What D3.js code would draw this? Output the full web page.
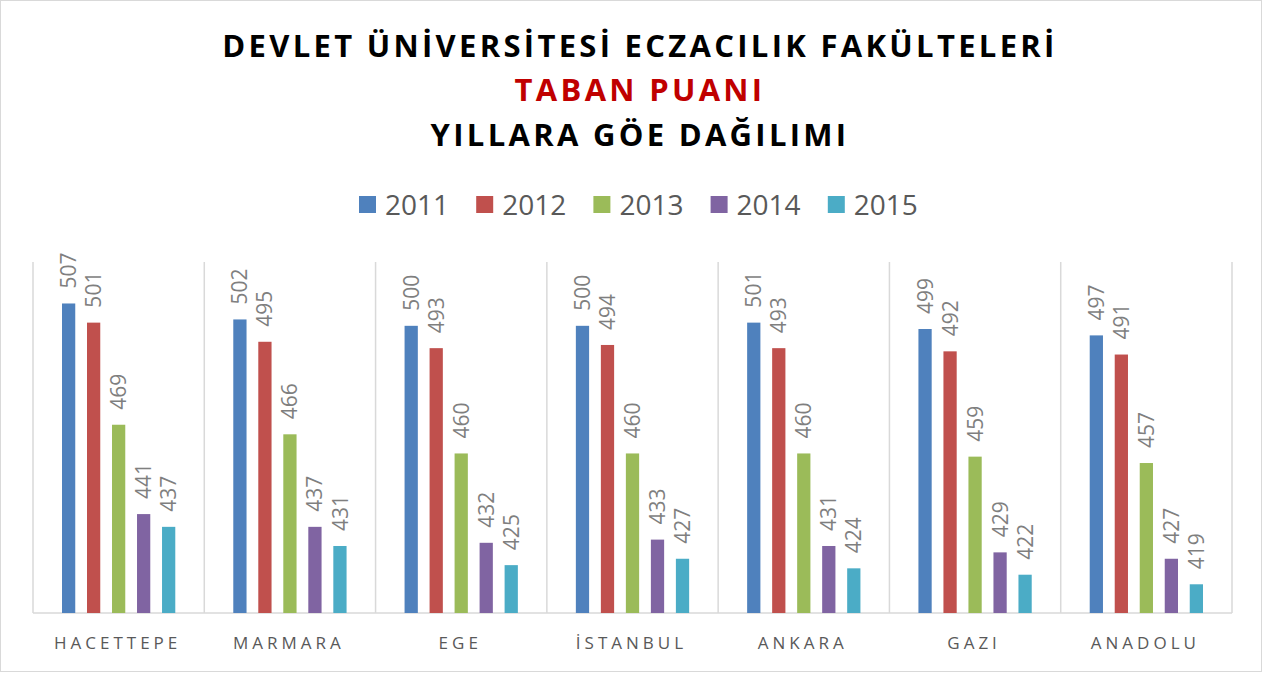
<!DOCTYPE html>
<html>
<head>
<meta charset="utf-8">
<script src="https://cdn.jsdelivr.net/npm/d3@7"></script>
<style>
  body { margin: 0; background: #fff; }
  text { font-family: "Open Sans", sans-serif; }
</style>
</head>
<body>
<svg id="chart" width="1271" height="673"></svg>
<script>
// chart data
var categories = ["HACETTEPE", "MARMARA", "EGE", "İSTANBUL", "ANKARA", "GAZI", "ANADOLU"];
var years = ["2011", "2012", "2013", "2014", "2015"];
var colors = ["#4F81BD", "#C0504D", "#9BBB59", "#8064A2", "#4BACC6"];
var v2011 = [507, 502, 500, 500, 501, 499, 497];
var v2012 = [501, 495, 493, 494, 493, 492, 491];
var v2013 = [469, 466, 460, 460, 460, 459, 457];
var v2014 = [441, 437, 432, 433, 431, 429, 427];
var v2015 = [437, 431, 425, 427, 424, 422, 419];
var series = [v2011, v2012, v2013, v2014, v2015];
var yDomain = [410, 520];
var titleLines = ["DEVLET ÜNİVERSİTESİ ECZACILIK FAKÜLTELERİ", "TABAN PUANI", "YILLARA GÖE DAĞILIMI"];

var svg = d3.select("#chart");

// outer border
svg.append("rect")
    .attr("x", 0.5).attr("y", 0.5)
    .attr("width", 1261).attr("height", 671)
    .attr("fill", "#fff").attr("stroke", "#d9d9d9");

var plotLeft = 33, plotRight = 1232, plotTop = 262, plotBottom = 613;

var x0 = d3.scaleBand().domain(categories).range([plotLeft, plotRight]);
var pad = 29;
var x1 = d3.scaleBand().domain(years).range([pad, x0.bandwidth() - pad]).paddingInner(0.47);
var y = d3.scaleLinear().domain(yDomain).range([plotBottom, plotTop]);

// title
var titleColors = ["#000", "#C00000", "#000"];
var titleY = [57, 101, 146];
titleLines.forEach(function(t, i) {
    svg.append("text")
	.attr("x", 640).attr("y", titleY[i])
	.attr("text-anchor", "middle")
	.attr("font-size", 31)
	.attr("font-weight", "bold")
	.attr("letter-spacing", 3.3)
	.attr("fill", titleColors[i])
	.text(t);
});

// legend
years.forEach(function(yr, i) {
    var lx = 359 + i * 117.2;
    svg.append("rect")
	.attr("x", lx).attr("y", 196)
	.attr("width", 17).attr("height", 17)
	.attr("fill", colors[i]);
    svg.append("text")
	.attr("x", lx + 26).attr("y", 215)
	.attr("font-size", 28)
	.attr("fill", "#595959")
	.text(yr);
});

// separators and base line
var bounds = categories.map(function(c) { return x0(c); }).concat([plotRight]);
svg.selectAll("line.sep").data(bounds).enter().append("line")
    .attr("class", "sep")
    .attr("x1", function(d) { return d; }).attr("x2", function(d) { return d; })
    .attr("y1", plotTop).attr("y2", plotBottom)
    .attr("stroke", "#d9d9d9").attr("stroke-width", 1.5);
svg.append("line")
    .attr("x1", plotLeft).attr("x2", plotRight)
    .attr("y1", plotBottom).attr("y2", plotBottom)
    .attr("stroke", "#d9d9d9").attr("stroke-width", 1.5);

// bars
var groups = svg.selectAll("g.cat").data(categories).enter().append("g")
    .attr("class", "cat")
    .attr("transform", function(d) { return "translate(" + x0(d) + ",0)"; });

groups.each(function(cat, ci) {
    var g = d3.select(this);
    years.forEach(function(yr, si) {
	var v = series[si][ci];
	g.append("rect")
	    .attr("x", x1(yr))
	    .attr("y", y(v))
	    .attr("width", x1.bandwidth())
	    .attr("height", plotBottom - y(v))
	    .attr("fill", colors[si]);
	var cx = x1(yr) + x1.bandwidth() / 2;
	var ly = y(v) - 15;
	g.append("text")
	    .attr("transform", "translate(" + cx + "," + ly + ") rotate(-90)")
	    .attr("dy", "0.36em")
	    .attr("font-size", 21)
	    .attr("fill", "#7f7f7f")
	    .text(v);
    });
    g.append("text")
	.attr("x", x0.bandwidth() / 2 - 1)
	.attr("y", 649)
	.attr("text-anchor", "middle")
	.attr("font-size", 17)
	.attr("letter-spacing", 4)
	.attr("fill", "#595959")
	.text(cat);
});
</script>
</body>
</html>
